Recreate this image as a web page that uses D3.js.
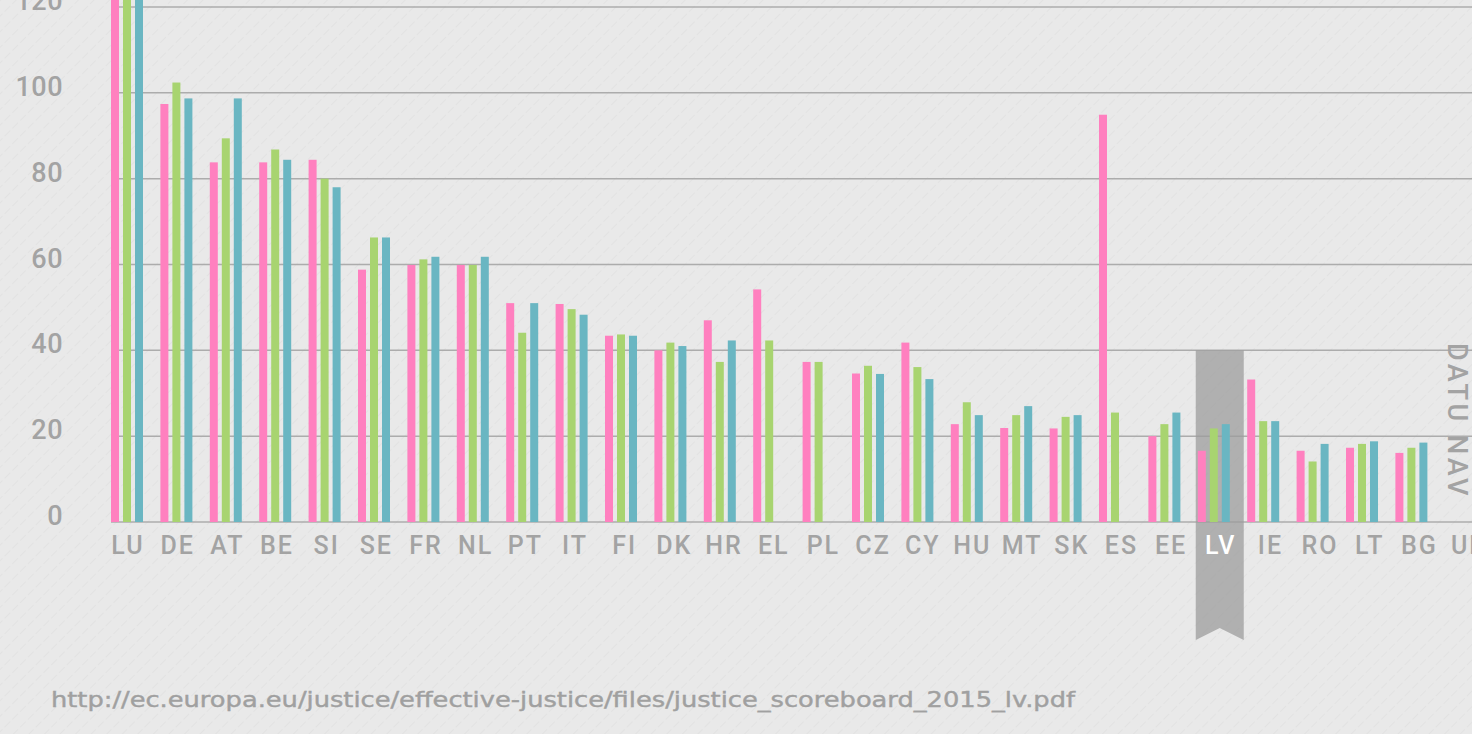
<!DOCTYPE html>
<html>
<head>
<meta charset="utf-8">
<script src="https://cdn.jsdelivr.net/npm/d3@7"></script>
<style>
  html, body { margin: 0; padding: 0; background: #e9e9e9; overflow: hidden; }
  svg { display: block; }
</style>
</head>
<body>
<svg id="chart" width="1472" height="734"></svg>
<script>
const categories = ["LU","DE","AT","BE","SI","SE","FR","NL","PT","IT","FI","DK","HR","EL","PL","CZ","CY","HU","MT","SK","ES","EE","LV","IE","RO","LT","BG","UK"];
const seriesNames = ["pink","green","teal"];
const pinkValues  = [125, 97.4, 83.8, 83.8, 84.4, 58.8, 59.9, 59.9, 51.0, 50.8, 43.4, 40.0, 47.0, 54.2, 37.3, 34.6, 41.8, 22.8, 21.9, 21.8, 94.9, 20.0, 16.6, 33.2, 16.6, 17.3, 16.1, null];
const greenValues = [128, 102.4, 89.4, 86.8, 80.0, 66.3, 61.2, 59.9, 44.1, 49.6, 43.7, 41.8, 37.3, 42.3, 37.3, 36.4, 36.1, 27.9, 24.9, 24.5, 25.5, 22.8, 21.8, 23.5, 14.1, 18.2, 17.3, null];
const tealValues  = [130, 98.7, 98.7, 84.4, 78.0, 66.3, 61.8, 61.8, 51.0, 48.3, 43.4, 41.0, 42.3, null, null, 34.5, 33.3, 24.9, 27.0, 24.9, null, 25.5, 22.8, 23.5, 18.2, 18.8, 18.5, null];
const yTicks = [0, 20, 40, 60, 80, 100, 120];
const highlightCategory = "LV";
const noDataCategory = "UK";
const noDataLabel = "DATU NAV";
const sourceText = "http://ec.europa.eu/justice/effective-justice/files/justice_scoreboard_2015_lv.pdf";

const colors = { pink: "#ff80bf", green: "#a8d470", teal: "#6ab6c2" };
const textGray = "#a3a3a3";

const svg = d3.select("#chart");
const W = 1472, H = 734;

// background texture
const defs = svg.append("defs");
const pat = defs.append("pattern").attr("id", "tex").attr("patternUnits", "userSpaceOnUse")
  .attr("width", 11).attr("height", 11).attr("patternTransform", "rotate(45)");
pat.append("rect").attr("width", 11).attr("height", 11).attr("fill", "#e9e9e9");
pat.append("line").attr("x1", 0).attr("y1", 0).attr("x2", 0).attr("y2", 11)
  .attr("stroke", "#e0e0e0").attr("stroke-width", 2).attr("stroke-dasharray", "5,3").attr("opacity", 0.7);
svg.append("rect").attr("width", W).attr("height", H).attr("fill", "url(#tex)");

const y = d3.scaleLinear().domain([0, 120]).range([522, 7]);
const step = 49.4;
const x0 = d3.scaleBand().domain(categories).range([104.6, 104.6 + categories.length * step]).padding(0);
const x1 = d3.scaleBand().domain(seriesNames).range([0, 32]).paddingInner(1/3).paddingOuter(0);
const xLabel = d3.scalePoint().domain(categories).range([128, 128 + (categories.length - 1) * 49.67]);

// gridlines
svg.append("g").selectAll("line").data(yTicks).join("line")
  .attr("x1", 111).attr("x2", W)
  .attr("y1", d => y(d)).attr("y2", d => y(d))
  .attr("stroke", "#acacac").attr("stroke-width", 1.5);

// y labels
svg.append("g").selectAll("text").data(yTicks).join("text")
  .attr("x", 63).attr("y", d => y(d) + 3)
  .attr("text-anchor", "end")
  .attr("font-family", "Roboto, 'DejaVu Sans', sans-serif")
  .attr("font-weight", 500).attr("font-size", 27)
  .attr("letter-spacing", 0.5)
  .attr("fill", textGray)
  .text(d => d);

// highlight ribbon
const hc = xLabel(highlightCategory) - 1;
const rTop = y(40), rBot = 640, notch = 628, rw = 24;
svg.append("path")
  .attr("d", `M${hc - rw},${rTop} L${hc + rw},${rTop} L${hc + rw},${rBot} L${hc},${notch} L${hc - rw},${rBot} Z`)
  .attr("fill", "#9c9c9c").attr("opacity", 0.75);

// bars
const series = [
  { key: "pink", values: pinkValues },
  { key: "green", values: greenValues },
  { key: "teal", values: tealValues }
];
const barData = [];
series.forEach(s => s.values.forEach((v, i) => {
  if (v !== null) barData.push({ cat: categories[i], key: s.key, value: v });
}));
svg.append("g").selectAll("rect").data(barData).join("rect")
  .attr("x", d => x0(d.cat) + 6.4 + x1(d.key))
  .attr("width", x1.bandwidth())
  .attr("y", d => Math.max(y(d.value), -5))
  .attr("height", d => y(0) - Math.max(y(d.value), -5))
  .attr("fill", d => colors[d.key]);

// x labels
svg.append("g").selectAll("text").data(categories).join("text")
  .attr("x", d => xLabel(d)).attr("y", 554)
  .attr("text-anchor", "middle")
  .attr("font-family", "Roboto, 'DejaVu Sans', sans-serif")
  .attr("font-weight", 500).attr("font-size", 25)
  .attr("letter-spacing", 2)
  .attr("fill", d => d === highlightCategory ? "#ffffff" : textGray)
  .text(d => d);

// no data label
svg.append("text")
  .attr("transform", `translate(1448,343) rotate(90)`)
  .attr("font-family", "Roboto, 'DejaVu Sans', sans-serif")
  .attr("font-weight", 500).attr("font-size", 27)
  .attr("letter-spacing", 3.5)
  .attr("fill", textGray)
  .text(noDataLabel);

// source
svg.append("text")
  .attr("x", 51).attr("y", 707)
  .attr("font-family", "'DejaVu Sans', sans-serif")
  .attr("font-size", 21)
  .attr("textLength", 1024).attr("lengthAdjust", "spacingAndGlyphs")
  .attr("fill", "#a0a0a0")
  .attr("stroke", "#a0a0a0").attr("stroke-width", 0.4)
  .text(sourceText);
</script>
</body>
</html>
